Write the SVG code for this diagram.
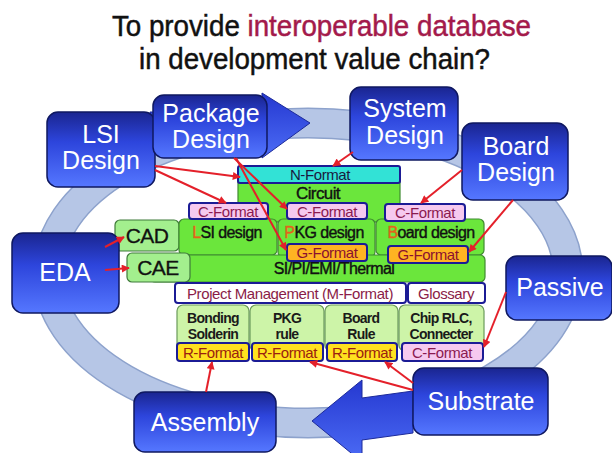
<svg xmlns="http://www.w3.org/2000/svg" width="612" height="453" viewBox="0 0 612 453">
<defs>
<style>
.t{font-family:"Liberation Sans",Arial,sans-serif}
.nt{font-family:"Liberation Sans",Arial,sans-serif;font-size:25px;fill:#fff;text-anchor:middle}
.node rect{fill:url(#ng);stroke:#0f1860;stroke-width:1.5}
.gb{fill:#6be63c;stroke:#3f8a30;stroke-width:1.2}
.lg{fill:#a3ef8e;stroke:#3f7a3a;stroke-width:1.2}
.pg{fill:#cdf4a8;stroke:#6a9a5a;stroke-width:1.2}
.cf{fill:#f6c9ef;stroke:#1b1b95;stroke-width:2}
.gf{fill:#ffb322;stroke:#1b1b95;stroke-width:2}
.rf{fill:#ffe11f;stroke:#1b1b95;stroke-width:2}
.wf{fill:#fff;stroke:#1b1b95;stroke-width:2}
.ft{font-family:"Liberation Sans",Arial,sans-serif;font-size:15px;text-anchor:middle;letter-spacing:-0.4px}
.bt{font-family:"Liberation Sans",Arial,sans-serif;font-size:16px;fill:#111;text-anchor:middle;stroke:#111;stroke-width:0.4;letter-spacing:-0.6px}
.rt{font-family:"Liberation Sans",Arial,sans-serif;font-size:14px;font-weight:bold;fill:#1a1a1a;text-anchor:middle;letter-spacing:-0.7px}
.or{fill:#e2641a;stroke:#e2641a}
.con line{stroke:#e4202a;stroke-width:2;marker-end:url(#ah)}
</style>
<linearGradient id="ng" x1="0" y1="0" x2="0" y2="1">
<stop offset="0" stop-color="#1a2590"/>
<stop offset="0.4" stop-color="#2d45dc"/>
<stop offset="1" stop-color="#5577ff"/>
</linearGradient>
<linearGradient id="ag" x1="0" y1="0" x2="0" y2="1">
<stop offset="0" stop-color="#2538d0"/>
<stop offset="1" stop-color="#4c6cf6"/>
</linearGradient>
<marker id="ah" viewBox="0 0 10 10" refX="9" refY="5" markerWidth="9" markerHeight="8" orient="auto" markerUnits="userSpaceOnUse">
<path d="M0,0 L10,5 L0,10 z" fill="#e4202a"/>
</marker>
</defs>
<rect width="612" height="453" fill="#fff"/>

<g id="title">
<text class="t" x="112" y="36" font-size="30" fill="#111" stroke="#111" stroke-width="0.5" textLength="419" lengthAdjust="spacingAndGlyphs">To provide <tspan fill="#a31a4b" stroke="#a31a4b">interoperable database</tspan></text>
<text class="t" x="139" y="69" font-size="30" fill="#111" stroke="#111" stroke-width="0.5" textLength="351" lengthAdjust="spacingAndGlyphs">in development value chain?</text>
</g>

<g id="ring">
<ellipse cx="308" cy="273" rx="260" ry="150" fill="none" stroke="#8da2cc" stroke-width="31"/>
<ellipse cx="308" cy="273" rx="260" ry="150" fill="none" stroke="#b6c6e6" stroke-width="28"/>
<polygon points="150,112 262,112 262,93 310,123 262,158 262,148 150,150" fill="url(#ag)" stroke="#1c2a9a" stroke-width="1"/>
<polygon points="413,391 362,398 362,380 312,421 362,462 362,440 413,433" fill="url(#ag)" stroke="#1c2a9a" stroke-width="1"/>
</g>

<g id="table">
<rect class="gb" x="238" y="180" width="162" height="42"/>
<g id="nformat"><rect x="238" y="166" width="162" height="17" rx="2" fill="#32e2d6" stroke="#1b1b95" stroke-width="2"/>
<text class="ft" x="320" y="180" fill="#1a1a40">N-Format</text></g>
<text class="bt" x="318" y="199" style="font-size:17px">Circuit</text>

<g id="cad"><rect class="lg" x="115" y="220" width="64" height="31" rx="5"/>
<text class="t" x="147" y="243" font-size="21" fill="#111" stroke="#111" stroke-width="0.3" text-anchor="middle" letter-spacing="-0.6">CAD</text></g>
<g id="lsid"><rect class="gb" x="179" y="219" width="98" height="36" rx="5"/>
<text class="bt" x="227" y="238"><tspan class="or">L</tspan>SI design</text></g>
<g id="pkgd"><rect class="gb" x="278" y="219" width="97" height="38" rx="5"/>
<text class="bt" x="324" y="238"><tspan class="or">P</tspan>KG design</text></g>
<g id="bdd"><rect class="gb" x="376" y="219" width="108" height="36" rx="5"/>
<text class="bt" x="431" y="238"><tspan class="or">B</tspan>oard design</text></g>
<g id="si"><rect class="gb" x="150" y="255" width="335" height="27" rx="5"/>
<text class="bt" x="334" y="274">SI/PI/EMI/Thermal</text></g>
<g id="cae"><rect class="lg" x="127" y="253" width="63" height="29" rx="5"/>
<text class="t" x="158" y="275" font-size="21" fill="#111" stroke="#111" stroke-width="0.3" text-anchor="middle" letter-spacing="-0.6">CAE</text></g>

<g id="cf1"><rect class="cf" x="189" y="203" width="79" height="16" rx="3"/><text class="ft" x="228" y="216.5" fill="#8b1a50">C-Format</text></g>
<g id="cf2"><rect class="cf" x="287" y="203" width="80" height="16" rx="3"/><text class="ft" x="327" y="216.5" fill="#8b1a50">C-Format</text></g>
<g id="cf3"><rect class="cf" x="385" y="204" width="80" height="17" rx="3"/><text class="ft" x="425" y="218" fill="#8b1a50">C-Format</text></g>
<g id="gf1"><rect class="gf" x="287" y="244" width="80" height="17" rx="3"/><text class="ft" x="327" y="258" fill="#8b1030">G-Format</text></g>
<g id="gf2"><rect class="gf" x="388" y="246" width="80" height="17" rx="3"/><text class="ft" x="428" y="260" fill="#8b1030">G-Format</text></g>

<g id="pm"><rect class="wf" x="175" y="283" width="231" height="20" rx="3"/><text class="ft" x="290" y="298.5" fill="#8a1c48">Project Management (M-Format)</text></g>
<g id="gl"><rect class="wf" x="408" y="283" width="77" height="20" rx="3"/><text class="ft" x="446" y="298.5" fill="#8a1c48">Glossary</text></g>

<g id="bond"><rect class="pg" x="177" y="305" width="72" height="46" rx="6"/>
<text class="rt" x="213" y="323">Bonding</text><text class="rt" x="213" y="339">Solderin</text></g>
<g id="pkgr"><rect class="pg" x="250" y="305" width="74" height="46" rx="6"/>
<text class="rt" x="287" y="323">PKG</text><text class="rt" x="287" y="339">rule</text></g>
<g id="bdr"><rect class="pg" x="325" y="305" width="73" height="46" rx="6"/>
<text class="rt" x="361" y="323">Board</text><text class="rt" x="361" y="339">Rule</text></g>
<g id="chip"><rect class="pg" x="399" y="305" width="85" height="46" rx="6"/>
<text class="rt" x="441" y="323">Chip RLC,</text><text class="rt" x="441" y="339">Connecter</text></g>

<g id="rf1"><rect class="rf" x="177" y="343" width="72" height="18" rx="3"/><text class="ft" x="213" y="357.5" fill="#9a2010">R-Format</text></g>
<g id="rf2"><rect class="rf" x="252" y="343" width="71" height="18" rx="3"/><text class="ft" x="287" y="357.5" fill="#9a2010">R-Format</text></g>
<g id="rf3"><rect class="rf" x="327" y="343" width="70" height="18" rx="3"/><text class="ft" x="362" y="357.5" fill="#9a2010">R-Format</text></g>
<g id="cf4"><rect class="cf" x="402" y="343" width="81" height="18" rx="3"/><text class="ft" x="442" y="357.5" fill="#8b1a50">C-Format</text></g>
</g>

<g id="lsi" class="node"><rect x="47" y="112" width="108" height="75" rx="11"/>
<text class="nt" x="101" y="143">LSI</text><text class="nt" x="101" y="169">Design</text></g>
<g id="package" class="node"><rect x="153" y="95" width="114" height="63" rx="11"/>
<text class="nt" x="211" y="122">Package</text><text class="nt" x="211" y="148">Design</text></g>
<g id="system" class="node"><rect x="350" y="87" width="108" height="73" rx="11"/>
<text class="nt" x="405" y="117">System</text><text class="nt" x="405" y="144">Design</text></g>
<g id="board" class="node"><rect x="462" y="123" width="106" height="77" rx="11"/>
<text class="nt" x="516" y="155">Board</text><text class="nt" x="516" y="181">Design</text></g>
<g id="eda" class="node"><rect x="12" y="233" width="107" height="80" rx="11"/>
<text class="nt" x="65" y="281">EDA</text></g>
<g id="passive" class="node"><rect x="506" y="256" width="106" height="64" rx="11"/>
<text class="nt" x="560" y="296">Passive</text></g>
<g id="substrate" class="node"><rect x="413" y="368" width="135" height="67" rx="11"/>
<text class="nt" x="481" y="410">Substrate</text></g>
<g id="assembly" class="node"><rect x="134" y="392" width="142" height="60" rx="11"/>
<text class="nt" x="205" y="431">Assembly</text></g>

<g id="connectors" class="con">
<line x1="155" y1="166" x2="240" y2="177"/>
<line x1="155" y1="170" x2="226" y2="203"/>
<line x1="234" y1="158" x2="287" y2="209"/>
<line x1="236" y1="158" x2="286" y2="250"/>
<line x1="353" y1="152" x2="333" y2="166"/>
<line x1="462" y1="170" x2="421" y2="203"/>
<line x1="513" y1="200" x2="469" y2="252"/>
<line x1="105" y1="247" x2="124" y2="237"/>
<line x1="105" y1="270" x2="129" y2="268"/>
<line x1="506" y1="292" x2="484" y2="347"/>
<line x1="413" y1="390" x2="310" y2="362"/>
<line x1="413" y1="383" x2="385" y2="362"/>
<line x1="206" y1="392" x2="212" y2="362"/>
</g>
</svg>
